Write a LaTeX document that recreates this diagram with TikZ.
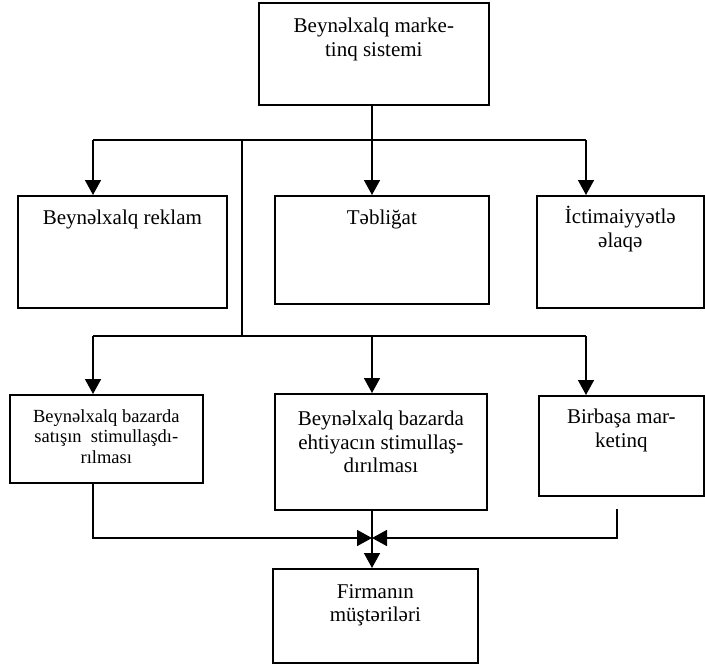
\documentclass[tikz,border=0pt]{standalone}
\usepackage{fontspec}
\setmainfont{Liberation Serif}
\usetikzlibrary{arrows.meta}

\tikzset{
  box/.style={draw, line width=1.7pt, rectangle, anchor=north west, inner sep=0pt},
  txt/.style={font=\fontsize{21}{23.5}\selectfont, align=center, inner sep=0pt, anchor=north},
  txtsmall/.style={font=\fontsize{18.5}{20.5}\selectfont, align=center, inner sep=0pt, anchor=north},
  link/.style={line width=1.6pt},
  arr/.style={line width=1.6pt, -{Triangle[length=15pt,width=16pt]}}
}

\begin{document}
\begin{tikzpicture}[x=1pt, y=-1pt]
  \path[fill=white, use as bounding box] (0,0) rectangle (705,664);

  % boxes
  \node[box, minimum width=230pt, minimum height=102pt] (top) at (258,2) {};
  \node[box, minimum width=209pt, minimum height=112pt] (b1) at (17,195) {};
  \node[box, minimum width=214pt, minimum height=108pt] (b2) at (274,195) {};
  \node[box, minimum width=167pt, minimum height=112pt] (b3) at (536,195) {};
  \node[box, minimum width=193pt, minimum height=88pt]  (b4) at (9,394) {};
  \node[box, minimum width=212pt, minimum height=116pt] (b5) at (274,393) {};
  \node[box, minimum width=165pt, minimum height=100pt] (b6) at (538,395) {};
  \node[box, minimum width=205pt, minimum height=94pt]  (b7) at (272,568) {};

  % box texts
  \node[txt] (ttop) at ([yshift=-16pt]top.north) {Beynəlxalq marke-\\tinq sistemi};
  \node[txt] (t1) at ([yshift=-15pt]b1.north) {Beynəlxalq reklam};
  \node[txt] (t2) at ([yshift=-15pt]b2.north) {Təbliğat};
  \node[txt] (t3) at ([yshift=-11pt]b3.north) {İctimaiyyətlə\\əlaqə};
  \node[txtsmall] (t4) at ([yshift=-15pt]b4.north) {Beynəlxalq bazarda\\satışın\ \ stimullaşdı-\\rılması};
  \node[txt] (t5) at ([yshift=-18pt]b5.north) {Beynəlxalq bazarda\\ehtiyacın stimullaş-\\dırılması};
  \node[txt] (t6) at ([yshift=-14pt]b6.north) {Birbaşa mar-\\ketinq};
  \node[txt] (t7) at ([yshift=-16pt]b7.north) {Firmanın\\müştəriləri};

  % junction points
  \coordinate (j1)  at (372,140);
  \coordinate (j1l) at (93,140);
  \coordinate (j1r) at (586,140);
  \coordinate (sp)  at (242,140);
  \coordinate (j2)  at (242,336);
  \coordinate (j2l) at (93,336);
  \coordinate (j2m) at (372,336);
  \coordinate (j2r) at (586,336);
  \coordinate (m)   at (372,538);
  \coordinate (rs)  at (617,509);

  % upper distribution
  \draw[link] (top.south -| j1) -- (j1);
  \draw[link] (j1l) -- (j1r);
  \draw[arr] (j1l) -- (j1l |- b1.north);
  \draw[arr] (j1) -- (j1 |- b2.north);
  \draw[arr] (j1r) -- (j1r |- b3.north);

  % lower distribution
  \draw[link] (sp) -- (j2);
  \draw[link] (j2l) -- (j2r);
  \draw[arr] (j2l) -- (j2l |- b4.north);
  \draw[arr] (j2m) -- (j2m |- b5.north);
  \draw[arr] (j2r) -- (j2r |- b6.north);

  % collection towards the customers
  \draw[arr] (j2l |- b4.south) -- (j2l |- m) -- (m);
  \draw[arr] (rs) -- (rs |- m) -- (m);
  \draw[arr] (b5.south -| m) -- (b7.north -| m);
\end{tikzpicture}
\end{document}
